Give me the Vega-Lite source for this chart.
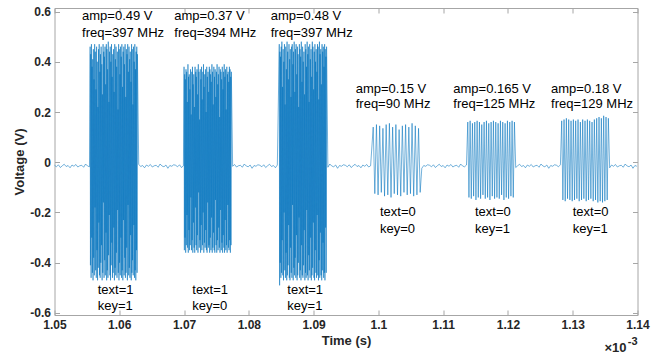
{
"$schema":"https://vega.github.io/schema/vega-lite/v6.json",
"width":583,"height":307,
"autosize":{"type":"none"},
"padding":{"left":54.5,"top":8,"right":24.5,"bottom":43},
"background":"white",
"config":{"view":{"stroke":"#a6a6a6","strokeWidth":1},"font":"Liberation Sans"},
"resolve":{"axis":{"x":"independent","y":"independent"}},
"layer":[
{
"data":{"values":[
{"t":1050,"v":-0.012},{"t":1050.3,"v":-0.018},{"t":1050.6,"v":-0.010},{"t":1050.9,"v":-0.021},{"t":1051.2,"v":-0.014},{"t":1051.5,"v":-0.008},{"t":1051.8,"v":-0.017},{"t":1052.1,"v":-0.013},{"t":1052.4,"v":-0.022},{"t":1052.7,"v":-0.011},{"t":1053,"v":-0.016},{"t":1053.3,"v":-0.009},{"t":1053.6,"v":-0.019},{"t":1053.9,"v":-0.014},{"t":1054.2,"v":-0.012},{"t":1054.5,"v":-0.020},{"t":1054.8,"v":-0.007},{"t":1055.1,"v":-0.015},{"t":1055.4,"v":-0.018},
{"t":1055.5,"v":0.46},{"t":1055.55,"v":-0.41},{"t":1055.6,"v":0.43},{"t":1055.65,"v":-0.46},{"t":1055.7,"v":0.47},{"t":1055.75,"v":-0.30},{"t":1055.8,"v":0.38},{"t":1055.85,"v":-0.44},{"t":1055.9,"v":0.41},{"t":1055.95,"v":-0.47},
{"t":1056,"v":0.45},{"t":1056.05,"v":-0.38},{"t":1056.1,"v":0.33},{"t":1056.15,"v":-0.45},{"t":1056.2,"v":0.47},{"t":1056.25,"v":-0.18},{"t":1056.3,"v":0.44},{"t":1056.35,"v":-0.43},{"t":1056.4,"v":0.29},{"t":1056.45,"v":-0.46},
{"t":1056.5,"v":0.46},{"t":1056.55,"v":-0.35},{"t":1056.6,"v":0.40},{"t":1056.65,"v":-0.47},{"t":1056.7,"v":0.22},{"t":1056.75,"v":-0.42},{"t":1056.8,"v":0.45},{"t":1056.85,"v":-0.24},{"t":1056.9,"v":0.47},{"t":1056.95,"v":-0.45},
{"t":1057,"v":0.36},{"t":1057.05,"v":-0.46},{"t":1057.1,"v":0.43},{"t":1057.15,"v":-0.40},{"t":1057.2,"v":0.46},{"t":1057.25,"v":-0.33},{"t":1057.3,"v":0.39},{"t":1057.35,"v":-0.47},{"t":1057.4,"v":0.27},{"t":1057.45,"v":-0.44},
{"t":1057.5,"v":0.47},{"t":1057.55,"v":-0.16},{"t":1057.6,"v":0.44},{"t":1057.65,"v":-0.46},{"t":1057.7,"v":0.42},{"t":1057.75,"v":-0.39},{"t":1057.8,"v":0.46},{"t":1057.85,"v":-0.45},{"t":1057.9,"v":0.31},{"t":1057.95,"v":-0.28},
{"t":1058,"v":0.47},{"t":1058.05,"v":-0.47},{"t":1058.1,"v":0.45},{"t":1058.15,"v":-0.43},{"t":1058.2,"v":0.37},{"t":1058.25,"v":-0.46},{"t":1058.3,"v":0.48},{"t":1058.35,"v":-0.37},{"t":1058.4,"v":0.24},{"t":1058.45,"v":-0.21},
{"t":1058.5,"v":0.44},{"t":1058.55,"v":-0.45},{"t":1058.6,"v":0.46},{"t":1058.65,"v":-0.47},{"t":1058.7,"v":0.40},{"t":1058.75,"v":-0.41},{"t":1058.8,"v":0.47},{"t":1058.85,"v":-0.32},{"t":1058.9,"v":0.34},{"t":1058.95,"v":-0.46},
{"t":1059,"v":0.43},{"t":1059.05,"v":-0.44},{"t":1059.1,"v":0.45},{"t":1059.15,"v":-0.26},{"t":1059.2,"v":0.28},{"t":1059.25,"v":-0.47},{"t":1059.3,"v":0.47},{"t":1059.35,"v":-0.42},{"t":1059.4,"v":0.41},{"t":1059.45,"v":-0.45},
{"t":1059.5,"v":0.46},{"t":1059.55,"v":-0.36},{"t":1059.6,"v":0.38},{"t":1059.65,"v":-0.46},{"t":1059.7,"v":0.44},{"t":1059.75,"v":-0.19},{"t":1059.8,"v":0.21},{"t":1059.85,"v":-0.44},{"t":1059.9,"v":0.47},{"t":1059.95,"v":-0.47},
{"t":1060,"v":0.45},{"t":1060.05,"v":-0.40},{"t":1060.1,"v":0.35},{"t":1060.15,"v":-0.45},{"t":1060.2,"v":0.46},{"t":1060.25,"v":-0.30},{"t":1060.3,"v":0.42},{"t":1060.35,"v":-0.46},{"t":1060.4,"v":0.47},{"t":1060.45,"v":-0.43},
{"t":1060.5,"v":0.30},{"t":1060.55,"v":-0.47},{"t":1060.6,"v":0.44},{"t":1060.65,"v":-0.23},{"t":1060.7,"v":0.46},{"t":1060.75,"v":-0.45},{"t":1060.8,"v":0.39},{"t":1060.85,"v":-0.38},{"t":1060.9,"v":0.47},{"t":1060.95,"v":-0.46},
{"t":1061,"v":0.26},{"t":1061.05,"v":-0.44},{"t":1061.1,"v":0.45},{"t":1061.15,"v":-0.34},{"t":1061.2,"v":0.43},{"t":1061.25,"v":-0.47},{"t":1061.3,"v":0.47},{"t":1061.35,"v":-0.17},{"t":1061.4,"v":0.36},{"t":1061.45,"v":-0.45},
{"t":1061.5,"v":0.46},{"t":1061.55,"v":-0.42},{"t":1061.6,"v":0.41},{"t":1061.65,"v":-0.46},{"t":1061.7,"v":0.44},{"t":1061.75,"v":-0.29},{"t":1061.8,"v":0.32},{"t":1061.85,"v":-0.47},{"t":1061.9,"v":0.47},{"t":1061.95,"v":-0.44},
{"t":1062,"v":0.45},{"t":1062.05,"v":-0.39},{"t":1062.1,"v":0.23},{"t":1062.15,"v":-0.45},{"t":1062.2,"v":0.46},{"t":1062.25,"v":-0.25},{"t":1062.3,"v":0.40},{"t":1062.35,"v":-0.46},{"t":1062.4,"v":0.47},{"t":1062.45,"v":-0.43},
{"t":1062.5,"v":0.37},{"t":1062.55,"v":-0.47},{"t":1062.6,"v":0.44},{"t":1062.65,"v":-0.35},{"t":1062.7,"v":0.46},{"t":1062.75,"v":-0.44},{"t":1062.8,"v":0.43},
{"t":1063.0,"v":-0.008},{"t":1063.3,"v":-0.017},{"t":1063.6,"v":-0.013},{"t":1063.9,"v":-0.022},{"t":1064.2,"v":-0.011},{"t":1064.5,"v":-0.016},{"t":1064.8,"v":-0.009},{"t":1065.1,"v":-0.019},{"t":1065.4,"v":-0.014},{"t":1065.7,"v":-0.012},{"t":1066.0,"v":-0.020},{"t":1066.3,"v":-0.007},{"t":1066.6,"v":-0.015},{"t":1066.9,"v":-0.018},{"t":1067.2,"v":-0.011},{"t":1067.5,"v":-0.024},{"t":1067.8,"v":-0.013},{"t":1068.1,"v":-0.016},{"t":1068.4,"v":-0.010},{"t":1068.7,"v":-0.012},{"t":1069.0,"v":-0.018},{"t":1069.3,"v":-0.010},{"t":1069.6,"v":-0.021},{"t":1069.9,"v":-0.014},
{"t":1070,"v":0.38},{"t":1070.05,"v":-0.35},{"t":1070.1,"v":0.35},{"t":1070.15,"v":-0.30},{"t":1070.2,"v":0.33},{"t":1070.25,"v":-0.36},{"t":1070.3,"v":0.37},{"t":1070.35,"v":-0.33},{"t":1070.4,"v":0.36},{"t":1070.45,"v":-0.21},
{"t":1070.5,"v":0.24},{"t":1070.55,"v":-0.34},{"t":1070.6,"v":0.39},{"t":1070.65,"v":-0.36},{"t":1070.7,"v":0.34},{"t":1070.75,"v":-0.27},{"t":1070.8,"v":0.35},{"t":1070.85,"v":-0.35},{"t":1070.9,"v":0.29},{"t":1070.95,"v":-0.33},
{"t":1071,"v":0.37},{"t":1071.05,"v":-0.14},{"t":1071.1,"v":0.19},{"t":1071.15,"v":-0.35},{"t":1071.2,"v":0.36},{"t":1071.25,"v":-0.31},{"t":1071.3,"v":0.38},{"t":1071.35,"v":-0.36},{"t":1071.4,"v":0.31},{"t":1071.45,"v":-0.24},
{"t":1071.5,"v":0.35},{"t":1071.55,"v":-0.34},{"t":1071.6,"v":0.22},{"t":1071.65,"v":-0.36},{"t":1071.7,"v":0.38},{"t":1071.75,"v":-0.18},{"t":1071.8,"v":0.36},{"t":1071.85,"v":-0.33},{"t":1071.9,"v":0.34},{"t":1071.95,"v":-0.35},
{"t":1072,"v":0.37},{"t":1072.05,"v":-0.29},{"t":1072.1,"v":0.27},{"t":1072.15,"v":-0.36},{"t":1072.2,"v":0.39},{"t":1072.25,"v":-0.12},{"t":1072.3,"v":0.36},{"t":1072.35,"v":-0.34},{"t":1072.4,"v":0.17},{"t":1072.45,"v":-0.31},
{"t":1072.5,"v":0.37},{"t":1072.55,"v":-0.36},{"t":1072.6,"v":0.33},{"t":1072.65,"v":-0.25},{"t":1072.7,"v":0.38},{"t":1072.75,"v":-0.35},{"t":1072.8,"v":0.25},{"t":1072.85,"v":-0.33},{"t":1072.9,"v":0.36},{"t":1072.95,"v":-0.20},
{"t":1073,"v":0.39},{"t":1073.05,"v":-0.36},{"t":1073.1,"v":0.30},{"t":1073.15,"v":-0.32},{"t":1073.2,"v":0.35},{"t":1073.25,"v":-0.34},{"t":1073.3,"v":0.37},{"t":1073.35,"v":-0.27},{"t":1073.4,"v":0.20},{"t":1073.45,"v":-0.35},
{"t":1073.5,"v":0.38},{"t":1073.55,"v":-0.36},{"t":1073.6,"v":0.34},{"t":1073.65,"v":-0.16},{"t":1073.7,"v":0.36},{"t":1073.75,"v":-0.34},{"t":1073.8,"v":0.28},{"t":1073.85,"v":-0.33},{"t":1073.9,"v":0.38},{"t":1073.95,"v":-0.36},
{"t":1074,"v":0.37},{"t":1074.05,"v":-0.30},{"t":1074.1,"v":0.35},{"t":1074.15,"v":-0.35},{"t":1074.2,"v":0.32},{"t":1074.25,"v":-0.22},{"t":1074.3,"v":0.39},{"t":1074.35,"v":-0.36},{"t":1074.4,"v":0.36},{"t":1074.45,"v":-0.34},
{"t":1074.5,"v":0.23},{"t":1074.55,"v":-0.28},{"t":1074.6,"v":0.38},{"t":1074.65,"v":-0.35},{"t":1074.7,"v":0.34},{"t":1074.75,"v":-0.36},{"t":1074.8,"v":0.37},{"t":1074.85,"v":-0.15},{"t":1074.9,"v":0.26},{"t":1074.95,"v":-0.33},
{"t":1075,"v":0.36},{"t":1075.05,"v":-0.36},{"t":1075.1,"v":0.39},{"t":1075.15,"v":-0.31},{"t":1075.2,"v":0.31},{"t":1075.25,"v":-0.35},{"t":1075.3,"v":0.35},{"t":1075.35,"v":-0.26},{"t":1075.4,"v":0.38},{"t":1075.45,"v":-0.34},
{"t":1075.5,"v":0.18},{"t":1075.55,"v":-0.36},{"t":1075.6,"v":0.37},{"t":1075.65,"v":-0.19},{"t":1075.7,"v":0.36},{"t":1075.75,"v":-0.35},{"t":1075.8,"v":0.33},{"t":1075.85,"v":-0.32},{"t":1075.9,"v":0.38},{"t":1075.95,"v":-0.36},
{"t":1076,"v":0.29},{"t":1076.05,"v":-0.29},{"t":1076.1,"v":0.36},{"t":1076.15,"v":-0.34},{"t":1076.2,"v":0.39},{"t":1076.25,"v":-0.36},{"t":1076.3,"v":0.34},{"t":1076.35,"v":-0.23},{"t":1076.4,"v":0.37},{"t":1076.45,"v":-0.35},
{"t":1076.5,"v":0.21},{"t":1076.55,"v":-0.33},{"t":1076.6,"v":0.38},{"t":1076.65,"v":-0.36},{"t":1076.7,"v":0.35},{"t":1076.75,"v":-0.17},{"t":1076.8,"v":0.36},{"t":1076.85,"v":-0.34},{"t":1076.9,"v":0.32},{"t":1076.95,"v":-0.35},
{"t":1077,"v":0.38},{"t":1077.05,"v":-0.31},{"t":1077.1,"v":0.37},{"t":1077.15,"v":-0.36},{"t":1077.2,"v":0.34},{"t":1077.25,"v":-0.33},{"t":1077.3,"v":0.36},
{"t":1077.5,"v":-0.016},{"t":1077.8,"v":-0.009},{"t":1078.1,"v":-0.019},{"t":1078.4,"v":-0.014},{"t":1078.7,"v":-0.012},{"t":1079.0,"v":-0.020},{"t":1079.3,"v":-0.007},{"t":1079.6,"v":-0.015},{"t":1079.9,"v":-0.018},{"t":1080.2,"v":-0.011},{"t":1080.5,"v":-0.024},{"t":1080.8,"v":-0.013},{"t":1081.1,"v":-0.016},{"t":1081.4,"v":-0.010},{"t":1081.7,"v":-0.012},{"t":1082.0,"v":-0.018},{"t":1082.3,"v":-0.010},{"t":1082.6,"v":-0.021},{"t":1082.9,"v":-0.014},{"t":1083.2,"v":-0.008},{"t":1083.5,"v":-0.017},{"t":1083.8,"v":-0.013},{"t":1084.1,"v":-0.022},{"t":1084.4,"v":-0.011},
{"t":1084.7,"v":0.47},{"t":1084.75,"v":-0.49},{"t":1084.8,"v":0.44},{"t":1084.85,"v":-0.40},{"t":1084.9,"v":0.42},{"t":1084.95,"v":-0.46},{"t":1085,"v":0.46},{"t":1085.05,"v":-0.44},{"t":1085.1,"v":0.48},{"t":1085.15,"v":-0.31},
{"t":1085.2,"v":0.30},{"t":1085.25,"v":-0.45},{"t":1085.3,"v":0.45},{"t":1085.35,"v":-0.47},{"t":1085.4,"v":0.40},{"t":1085.45,"v":-0.20},{"t":1085.5,"v":0.47},{"t":1085.55,"v":-0.43},{"t":1085.6,"v":0.23},{"t":1085.65,"v":-0.46},
{"t":1085.7,"v":0.46},{"t":1085.75,"v":-0.36},{"t":1085.8,"v":0.37},{"t":1085.85,"v":-0.47},{"t":1085.9,"v":0.48},{"t":1085.95,"v":-0.45},{"t":1086,"v":0.44},{"t":1086.05,"v":-0.41},{"t":1086.1,"v":0.33},{"t":1086.15,"v":-0.25},
{"t":1086.2,"v":0.47},{"t":1086.25,"v":-0.46},{"t":1086.3,"v":0.41},{"t":1086.35,"v":-0.47},{"t":1086.4,"v":0.45},{"t":1086.45,"v":-0.34},{"t":1086.5,"v":0.26},{"t":1086.55,"v":-0.44},{"t":1086.6,"v":0.46},{"t":1086.65,"v":-0.46},
{"t":1086.7,"v":0.47},{"t":1086.75,"v":-0.17},{"t":1086.8,"v":0.39},{"t":1086.85,"v":-0.47},{"t":1086.9,"v":0.44},{"t":1086.95,"v":-0.42},{"t":1087,"v":0.48},{"t":1087.05,"v":-0.45},{"t":1087.1,"v":0.28},{"t":1087.15,"v":-0.38},
{"t":1087.2,"v":0.45},{"t":1087.25,"v":-0.46},{"t":1087.3,"v":0.47},{"t":1087.35,"v":-0.29},{"t":1087.4,"v":0.35},{"t":1087.45,"v":-0.47},{"t":1087.5,"v":0.46},{"t":1087.55,"v":-0.45},{"t":1087.6,"v":0.43},{"t":1087.65,"v":-0.40},
{"t":1087.7,"v":0.22},{"t":1087.75,"v":-0.22},{"t":1087.8,"v":0.47},{"t":1087.85,"v":-0.46},{"t":1087.9,"v":0.45},{"t":1087.95,"v":-0.43},{"t":1088,"v":0.42},{"t":1088.05,"v":-0.47},{"t":1088.1,"v":0.48},{"t":1088.15,"v":-0.33},
{"t":1088.2,"v":0.32},{"t":1088.25,"v":-0.45},{"t":1088.3,"v":0.46},{"t":1088.35,"v":-0.46},{"t":1088.4,"v":0.40},{"t":1088.45,"v":-0.41},{"t":1088.5,"v":0.44},{"t":1088.55,"v":-0.27},{"t":1088.6,"v":0.27},{"t":1088.65,"v":-0.47},
{"t":1088.7,"v":0.47},{"t":1088.75,"v":-0.44},{"t":1088.8,"v":0.45},{"t":1088.85,"v":-0.46},{"t":1088.9,"v":0.38},{"t":1088.95,"v":-0.19},{"t":1089,"v":0.48},{"t":1089.05,"v":-0.45},{"t":1089.1,"v":0.43},{"t":1089.15,"v":-0.47},
{"t":1089.2,"v":0.46},{"t":1089.25,"v":-0.37},{"t":1089.3,"v":0.24},{"t":1089.35,"v":-0.43},{"t":1089.4,"v":0.47},{"t":1089.45,"v":-0.46},{"t":1089.5,"v":0.41},{"t":1089.55,"v":-0.30},{"t":1089.6,"v":0.45},{"t":1089.65,"v":-0.47},
{"t":1089.7,"v":0.34},{"t":1089.75,"v":-0.45},{"t":1089.8,"v":0.48},{"t":1089.85,"v":-0.42},{"t":1089.9,"v":0.46},{"t":1089.95,"v":-0.24},{"t":1090,"v":0.29},{"t":1090.05,"v":-0.46},{"t":1090.1,"v":0.44},{"t":1090.15,"v":-0.47},
{"t":1090.2,"v":0.47},{"t":1090.25,"v":-0.35},{"t":1090.3,"v":0.40},{"t":1090.35,"v":-0.44},{"t":1090.4,"v":0.45},{"t":1090.45,"v":-0.46},{"t":1090.5,"v":0.36},{"t":1090.55,"v":-0.21},{"t":1090.6,"v":0.47},{"t":1090.65,"v":-0.45},
{"t":1090.7,"v":0.46},{"t":1090.75,"v":-0.47},{"t":1090.8,"v":0.25},{"t":1090.85,"v":-0.39},{"t":1090.9,"v":0.48},{"t":1090.95,"v":-0.46},{"t":1091,"v":0.43},{"t":1091.05,"v":-0.28},{"t":1091.1,"v":0.45},{"t":1091.15,"v":-0.45},
{"t":1091.2,"v":0.31},{"t":1091.25,"v":-0.47},{"t":1091.3,"v":0.47},{"t":1091.35,"v":-0.43},{"t":1091.4,"v":0.44},{"t":1091.45,"v":-0.32},{"t":1091.5,"v":0.46},{"t":1091.55,"v":-0.46},{"t":1091.6,"v":0.38},{"t":1091.65,"v":-0.44},
{"t":1091.7,"v":0.47},{"t":1091.75,"v":-0.47},{"t":1091.8,"v":0.45},{"t":1091.85,"v":-0.26},{"t":1091.9,"v":0.42},{"t":1091.95,"v":-0.44},{"t":1092,"v":0.46},
{"t":1092.2,"v":-0.020},{"t":1092.5,"v":-0.007},{"t":1092.8,"v":-0.015},{"t":1093.1,"v":-0.018},{"t":1093.4,"v":-0.011},{"t":1093.7,"v":-0.024},{"t":1094.0,"v":-0.013},{"t":1094.3,"v":-0.016},{"t":1094.6,"v":-0.010},{"t":1094.9,"v":-0.012},{"t":1095.2,"v":-0.018},{"t":1095.5,"v":-0.010},{"t":1095.8,"v":-0.021},{"t":1096.1,"v":-0.014},{"t":1096.4,"v":-0.008},{"t":1096.7,"v":-0.017},{"t":1097.0,"v":-0.013},{"t":1097.3,"v":-0.022},{"t":1097.6,"v":-0.011},{"t":1097.9,"v":-0.016},{"t":1098.2,"v":-0.009},{"t":1098.5,"v":-0.019},{"t":1098.8,"v":-0.014},
{"t":1099.2,"v":0.14},{"t":1099.45,"v":-0.125},{"t":1099.7,"v":0.15},{"t":1099.95,"v":-0.13},{"t":1100.2,"v":0.145},{"t":1100.45,"v":-0.12},{"t":1100.7,"v":0.135},{"t":1100.95,"v":-0.135},{"t":1101.2,"v":0.15},{"t":1101.45,"v":-0.13},{"t":1101.7,"v":0.155},{"t":1101.95,"v":-0.14},{"t":1102.2,"v":0.14},{"t":1102.45,"v":-0.125},{"t":1102.7,"v":0.15},{"t":1102.95,"v":-0.13},{"t":1103.2,"v":0.13},{"t":1103.45,"v":-0.135},{"t":1103.7,"v":0.145},{"t":1103.95,"v":-0.12},{"t":1104.2,"v":0.15},{"t":1104.45,"v":-0.13},{"t":1104.7,"v":0.14},{"t":1104.95,"v":-0.125},{"t":1105.2,"v":0.155},{"t":1105.45,"v":-0.135},{"t":1105.7,"v":0.145},{"t":1105.95,"v":-0.13},{"t":1106.2,"v":0.135},{"t":1106.45,"v":-0.12},
{"t":1106.7,"v":-0.024},{"t":1107.0,"v":-0.013},{"t":1107.3,"v":-0.016},{"t":1107.6,"v":-0.010},{"t":1107.9,"v":-0.012},{"t":1108.2,"v":-0.018},{"t":1108.5,"v":-0.010},{"t":1108.8,"v":-0.021},{"t":1109.1,"v":-0.014},{"t":1109.4,"v":-0.008},{"t":1109.7,"v":-0.017},{"t":1110.0,"v":-0.013},{"t":1110.3,"v":-0.022},{"t":1110.6,"v":-0.011},{"t":1110.9,"v":-0.016},{"t":1111.2,"v":-0.009},{"t":1111.5,"v":-0.019},{"t":1111.8,"v":-0.014},{"t":1112.1,"v":-0.012},{"t":1112.4,"v":-0.020},{"t":1112.7,"v":-0.007},{"t":1113.0,"v":-0.015},{"t":1113.3,"v":-0.018},{"t":1113.6,"v":-0.011},
{"t":1113.8,"v":0.16},{"t":1113.98,"v":-0.14},{"t":1114.16,"v":0.165},{"t":1114.34,"v":-0.145},{"t":1114.52,"v":0.155},{"t":1114.7,"v":-0.135},{"t":1114.88,"v":0.16},{"t":1115.06,"v":-0.15},{"t":1115.24,"v":0.165},{"t":1115.42,"v":-0.14},{"t":1115.6,"v":0.16},{"t":1115.78,"v":-0.145},{"t":1115.96,"v":0.15},{"t":1116.14,"v":-0.13},{"t":1116.32,"v":0.16},{"t":1116.5,"v":-0.145},{"t":1116.68,"v":0.165},{"t":1116.86,"v":-0.14},{"t":1117.04,"v":0.155},{"t":1117.22,"v":-0.15},{"t":1117.4,"v":0.16},{"t":1117.58,"v":-0.135},{"t":1117.76,"v":0.165},{"t":1117.94,"v":-0.145},{"t":1118.12,"v":0.16},{"t":1118.3,"v":-0.14},{"t":1118.48,"v":0.155},{"t":1118.66,"v":-0.145},{"t":1118.84,"v":0.165},{"t":1119.02,"v":-0.13},{"t":1119.2,"v":0.16},{"t":1119.38,"v":-0.15},{"t":1119.56,"v":0.155},{"t":1119.74,"v":-0.14},{"t":1119.92,"v":0.165},{"t":1120.1,"v":-0.145},{"t":1120.28,"v":0.16},{"t":1120.46,"v":-0.135},{"t":1120.64,"v":0.165},{"t":1120.82,"v":-0.14},{"t":1121.0,"v":0.16},
{"t":1121.2,"v":-0.021},{"t":1121.5,"v":-0.014},{"t":1121.8,"v":-0.008},{"t":1122.1,"v":-0.017},{"t":1122.4,"v":-0.013},{"t":1122.7,"v":-0.022},{"t":1123.0,"v":-0.011},{"t":1123.3,"v":-0.016},{"t":1123.6,"v":-0.009},{"t":1123.9,"v":-0.019},{"t":1124.2,"v":-0.014},{"t":1124.5,"v":-0.012},{"t":1124.8,"v":-0.020},{"t":1125.1,"v":-0.007},{"t":1125.4,"v":-0.015},{"t":1125.7,"v":-0.018},{"t":1126.0,"v":-0.011},{"t":1126.3,"v":-0.024},{"t":1126.6,"v":-0.013},{"t":1126.9,"v":-0.016},{"t":1127.2,"v":-0.010},{"t":1127.5,"v":-0.012},{"t":1127.8,"v":-0.018},{"t":1128.1,"v":-0.010},
{"t":1128.3,"v":0.165},{"t":1128.48,"v":-0.15},{"t":1128.66,"v":0.17},{"t":1128.84,"v":-0.155},{"t":1129.02,"v":0.175},{"t":1129.2,"v":-0.145},{"t":1129.38,"v":0.17},{"t":1129.56,"v":-0.15},{"t":1129.74,"v":0.165},{"t":1129.92,"v":-0.155},{"t":1130.1,"v":0.17},{"t":1130.28,"v":-0.15},{"t":1130.46,"v":0.165},{"t":1130.64,"v":-0.145},{"t":1130.82,"v":0.17},{"t":1131.0,"v":-0.155},{"t":1131.18,"v":0.16},{"t":1131.36,"v":-0.15},{"t":1131.54,"v":0.17},{"t":1131.72,"v":-0.145},{"t":1131.9,"v":0.165},{"t":1132.08,"v":-0.155},{"t":1132.26,"v":0.17},{"t":1132.44,"v":-0.15},{"t":1132.62,"v":0.165},{"t":1132.8,"v":-0.145},{"t":1132.98,"v":0.16},{"t":1133.16,"v":-0.155},{"t":1133.34,"v":0.17},{"t":1133.52,"v":-0.15},{"t":1133.7,"v":0.175},{"t":1133.88,"v":-0.16},{"t":1134.06,"v":0.18},{"t":1134.24,"v":-0.155},{"t":1134.42,"v":0.175},{"t":1134.6,"v":-0.16},{"t":1134.78,"v":0.185},{"t":1134.96,"v":-0.155},{"t":1135.14,"v":0.18},{"t":1135.32,"v":-0.15},{"t":1135.5,"v":0.175},
{"t":1135.7,"v":-0.022},{"t":1136.0,"v":-0.011},{"t":1136.3,"v":-0.016},{"t":1136.6,"v":-0.009},{"t":1136.9,"v":-0.019},{"t":1137.2,"v":-0.014},{"t":1137.5,"v":-0.012},{"t":1137.8,"v":-0.020},{"t":1138.1,"v":-0.007},{"t":1138.4,"v":-0.015},{"t":1138.7,"v":-0.018},{"t":1139.0,"v":-0.011},{"t":1139.3,"v":-0.024},{"t":1139.6,"v":-0.013},{"t":1139.9,"v":-0.016}
]},
"mark":{"type":"line","color":"#0072BD","strokeWidth":0.55},
"encoding":{
"x":{"field":"t","type":"quantitative","scale":{"domain":[1050,1140],"nice":false,"zero":false},
"axis":{"orient":"bottom","values":[1050,1060,1070,1080,1090,1100,1110,1120,1130,1140],"labelExpr":"format(datum.value/1000,'.2~f')","title":"Time (s)","grid":false,"domain":false,"tickSize":-5,"tickColor":"#a6a6a6","labelPadding":9,"labelFlush":false,"labelOverlap":false,"labelFont":"Liberation Sans","labelFontSize":12,"labelFontWeight":"bold","labelColor":"#262626","titleFont":"Liberation Sans","titleFontSize":13,"titleFontWeight":"bold","titleColor":"#262626","titlePadding":4}},
"y":{"field":"v","type":"quantitative","scale":{"domain":[-0.608,0.614],"nice":false,"zero":false},
"axis":{"orient":"left","values":[-0.6,-0.4,-0.2,0,0.2,0.4,0.6],"labelExpr":"(datum.value<0?'-':'')+format(abs(datum.value),'.1~f')","title":"Voltage (V)","grid":false,"domain":false,"tickSize":-5,"tickColor":"#a6a6a6","labelPadding":9,"labelFlush":false,"labelOverlap":false,"labelFont":"Liberation Sans","labelFontSize":12,"labelFontWeight":"bold","labelColor":"#262626","titleFont":"Liberation Sans","titleFontSize":13,"titleFontWeight":"bold","titleColor":"#262626","titlePadding":3}}
}
},
{
"data":{"values":[
{"t":1054.25,"v":0.582,"s":"amp=0.49 V"},{"t":1054.25,"v":0.515,"s":"freq=397 MHz"},
{"t":1068.49,"v":0.582,"s":"amp=0.37 V"},{"t":1068.49,"v":0.515,"s":"freq=394 MHz"},
{"t":1083.38,"v":0.582,"s":"amp=0.48 V"},{"t":1083.38,"v":0.515,"s":"freq=397 MHz"},
{"t":1096.5,"v":0.293,"s":"amp=0.15 V"},{"t":1096.5,"v":0.23,"s":"freq=90 MHz"},
{"t":1111.56,"v":0.293,"s":"amp=0.165 V"},{"t":1111.56,"v":0.23,"s":"freq=125 MHz"},
{"t":1126.65,"v":0.293,"s":"amp=0.18 V"},{"t":1126.65,"v":0.23,"s":"freq=129 MHz"},
{"t":1056.67,"v":-0.507,"s":"text=1"},{"t":1056.67,"v":-0.574,"s":"key=1"},
{"t":1071.27,"v":-0.507,"s":"text=1"},{"t":1071.27,"v":-0.574,"s":"key=0"},
{"t":1085.94,"v":-0.507,"s":"text=1"},{"t":1085.94,"v":-0.574,"s":"key=1"},
{"t":1100.25,"v":-0.2,"s":"text=0"},{"t":1100.25,"v":-0.267,"s":"key=0"},
{"t":1114.91,"v":-0.2,"s":"text=0"},{"t":1114.91,"v":-0.267,"s":"key=1"},
{"t":1130.0,"v":-0.2,"s":"text=0"},{"t":1130.0,"v":-0.267,"s":"key=1"}
]},
"mark":{"type":"text","align":"left","baseline":"middle","font":"Liberation Sans","fontSize":13,"color":"#000000"},
"encoding":{
"x":{"field":"t","type":"quantitative","scale":{"domain":[1050,1140],"nice":false,"zero":false},
"axis":{"orient":"top","values":[1050,1060,1070,1080,1090,1100,1110,1120,1130,1140],"labels":false,"title":null,"grid":false,"domain":false,"tickSize":-5,"tickColor":"#a6a6a6"}},
"y":{"field":"v","type":"quantitative","scale":{"domain":[-0.608,0.614],"nice":false,"zero":false},
"axis":{"orient":"right","values":[-0.6,-0.4,-0.2,0,0.2,0.4,0.6],"labels":false,"title":null,"grid":false,"domain":false,"tickSize":-5,"tickColor":"#a6a6a6"}},
"text":{"field":"s","type":"nominal"}
}
},
{
"data":{"values":[{}]},
"mark":{"type":"text","align":"right","baseline":"middle","font":"Liberation Sans","fontSize":13,"fontWeight":"bold","color":"#262626","dx":-11,"dy":33,"text":"×10"},
"encoding":{"x":{"datum":1140,"type":"quantitative","axis":null},"y":{"datum":-0.608,"type":"quantitative","axis":null}}
},
{
"data":{"values":[{}]},
"mark":{"type":"text","align":"right","baseline":"middle","font":"Liberation Sans","fontSize":11,"fontWeight":"bold","color":"#262626","dx":0,"dy":27,"text":"-3"},
"encoding":{"x":{"datum":1140,"type":"quantitative","axis":null},"y":{"datum":-0.608,"type":"quantitative","axis":null}}
}
]
}
